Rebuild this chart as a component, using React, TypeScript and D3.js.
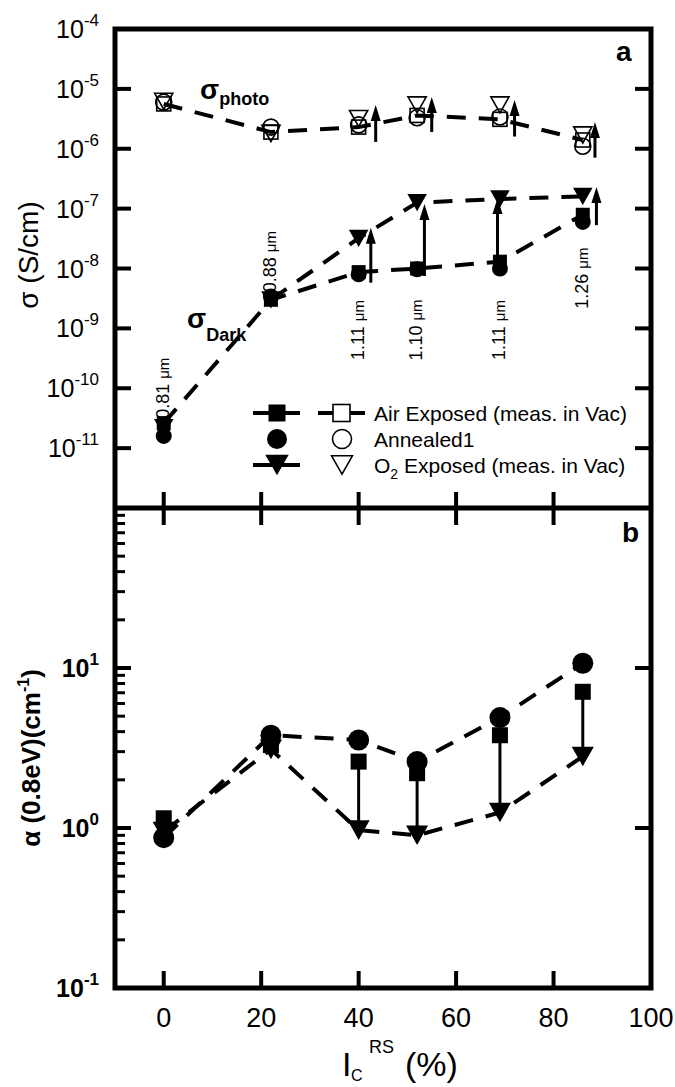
import React from 'react';
import * as d3 from 'd3';

// composition (%) of each sample
const xVals = [0, 22, 40, 52, 69, 86];

// photoconductivity (S/cm), open symbols
const photoAir = [5.6e-6, 1.9e-6, 2.3e-6, 3.6e-6, 3.1e-6, 1.4e-6];
const photoAnneal = [6.0e-6, 2.3e-6, 2.5e-6, 3.3e-6, 3.4e-6, 1.1e-6];
const photoO2 = [6.2e-6, 1.8e-6, 3.2e-6, 5.4e-6, 5.4e-6, 1.7e-6];

// dark conductivity (S/cm), filled symbols
const darkAir = [2.6e-11, 3.0e-9, 8.7e-9, 1.0e-8, 1.3e-8, 7.9e-8];
const darkAnneal = [1.6e-11, 3.4e-9, 8.0e-9, 9.7e-9, 1.0e-8, 6.0e-8];
const darkO2 = [2.2e-11, 3.0e-9, 3.2e-8, 1.26e-7, 1.45e-7, 1.6e-7];

// arrows: [x, from, to]
const photoArrows = [
  [43.5, 1.3e-6, 5.4e-6],
  [55, 1.9e-6, 7.3e-6],
  [72, 1.6e-6, 6.5e-6],
  [88.5, 7.1e-7, 2.8e-6],
];
const darkArrows = [
  [42.5, 5.8e-9, 4.8e-8],
  [53.5, 7.5e-9, 1.2e-7],
  [68.5, 1.3e-8, 1.5e-7],
  [88.8, 5.3e-8, 2.3e-7],
];

// film thickness labels
const thickText = ['0.81', '0.88', '1.11', '1.10', '1.11', '1.26'];
const thickAt = [1.0e-10, 1.3e-8, 9.4e-10, 9.4e-10, 9.4e-10, 6.9e-9];

// absorption at 0.8 eV (cm-1)
const alphaAir = [1.15, 3.3, 2.6, 2.2, 3.8, 7.1];
const alphaAnneal = [0.87, 3.8, 3.55, 2.6, 4.9, 10.7];
const alphaO2 = [0.95, 3.1, 0.97, 0.9, 1.25, 2.8];

const xTicks = [0, 20, 40, 60, 80, 100];
const sigmaExp = [-4, -5, -6, -7, -8, -9, -10, -11];
const alphaExp = [1, 0, -1];

const legendLabels = ['Air Exposed (meas. in Vac)', 'Annealed1', 'Exposed (meas. in Vac)'];

const FONT = '"Liberation Sans", Arial, sans-serif';

const L = 115, R = 651, T1 = 29, B1 = 508, B2 = 988;

type Shape = 'square' | 'circle' | 'tri';

function Marker({ shape, cx, cy, s, filled }: { shape: Shape; cx: number; cy: number; s: number; filled: boolean }) {
  const fill = filled ? '#000' : 'none';
  const sw = filled ? 0 : 1.6;
  if (shape === 'square')
    return <rect x={cx - s / 2} y={cy - s / 2} width={s} height={s} fill={fill} stroke="#000" strokeWidth={sw} />;
  if (shape === 'circle')
    return <circle cx={cx} cy={cy} r={s / 2 + 1} fill={fill} stroke="#000" strokeWidth={sw} />;
  const w = s * 1.3, h = s * 1.15;
  return (
    <polygon
      points={`${cx - w / 2},${cy - h / 2} ${cx + w / 2},${cy - h / 2} ${cx},${cy + h / 2}`}
      fill={fill} stroke="#000" strokeWidth={sw} strokeLinejoin="miter"
    />
  );
}

export default function App() {
  const x = d3.scaleLinear().domain([-10, 100]).range([L, R]);
  const yS = d3.scaleLog().domain([1e-12, 1e-4]).range([B1, T1]);
  const yA = d3.scaleLog().domain([0.1, 100]).range([B2, B1]);

  const lineS = (vals: number[], from = 0) =>
    d3.line<number>().x((_, i) => x(xVals[i + from])).y(v => yS(v))(vals.slice(from)) || '';
  const lineA = (vals: number[]) =>
    d3.line<number>().x((_, i) => x(xVals[i])).y(v => yA(v))(vals) || '';

  const dash = { fill: 'none', stroke: '#000', strokeWidth: 4, strokeDasharray: '19 13' };

  const minor: number[] = [];
  [0.1, 1, 10].forEach(d => { for (let k = 2; k <= 9; k++) minor.push(d * k); });

  const legendY = [413, 439, 465];

  return (
    <svg width={675} height={1087} style={{ position: 'absolute', left: 0, top: 0, background: '#fff' }} fontFamily={FONT}>
      {/* ---------- top panel ---------- */}
      <path d={lineS(photoAir)} {...dash} />
      <path d={lineS(darkAir)} {...dash} />
      <path d={lineS(darkO2, 1)} {...dash} />

      {photoArrows.concat(darkArrows).map((a, i) => {
        const px = x(a[0]), ty = yS(a[2]);
        return (
          <g key={'ar' + i}>
            <line x1={px} x2={px} y1={yS(a[1])} y2={ty + 12} stroke="#000" strokeWidth={3} />
            <polygon points={`${px - 5},${ty + 16} ${px + 5},${ty + 16} ${px},${ty}`} fill="#000" />
          </g>
        );
      })}

      {xVals.map((xv, i) => (
        <g key={'pm' + i}>
          <Marker shape="square" cx={x(xv)} cy={yS(photoAir[i])} s={14} filled={false} />
          <Marker shape="circle" cx={x(xv)} cy={yS(photoAnneal[i])} s={14} filled={false} />
          <Marker shape="tri" cx={x(xv)} cy={yS(photoO2[i])} s={14} filled={false} />
          <Marker shape="square" cx={x(xv)} cy={yS(darkAir[i])} s={14} filled />
          <Marker shape="circle" cx={x(xv)} cy={yS(darkAnneal[i])} s={14} filled />
          <Marker shape="tri" cx={x(xv)} cy={yS(darkO2[i])} s={15} filled />
        </g>
      ))}

      {thickText.map((t, i) => {
        const px = x(xVals[i]) - 1, py = yS(thickAt[i]);
        return (
          <text key={'th' + i} transform={`translate(${px + 6},${py}) rotate(-90)`} fontSize={18} textAnchor="middle">
            {t} <tspan fontSize={15}>μm</tspan>
          </text>
        );
      })}

      <text x={200} y={99} fontSize={28} fontWeight="bold">σ<tspan fontSize={18} dy={6}>photo</tspan></text>
      <text x={187} y={328} fontSize={28} fontWeight="bold">σ<tspan fontSize={18} dy={13}>Dark</tspan></text>
      <text x={616} y={61} fontSize={28} fontWeight="bold">a</text>

      {/* legend */}
      <line x1={253} x2={300} y1={legendY[0]} y2={legendY[0]} stroke="#000" strokeWidth={4} />
      <line x1={318} x2={365} y1={legendY[0]} y2={legendY[0]} stroke="#000" strokeWidth={4} />
      <line x1={253} x2={300} y1={legendY[2]} y2={legendY[2]} stroke="#000" strokeWidth={4} />
      <Marker shape="square" cx={277} cy={legendY[0]} s={17} filled />
      <rect x={333} y={legendY[0] - 8.5} width={17} height={17} fill="#fff" stroke="#000" strokeWidth={1.6} />
      <Marker shape="circle" cx={277} cy={legendY[1]} s={18} filled />
      <Marker shape="circle" cx={342} cy={legendY[1]} s={17} filled={false} />
      <Marker shape="tri" cx={277} cy={legendY[2]} s={18} filled />
      <Marker shape="tri" cx={342} cy={legendY[2]} s={16} filled={false} />
      <text x={374} y={legendY[0] + 7.5} fontSize={21}>{legendLabels[0]}</text>
      <text x={374} y={legendY[1] + 7.5} fontSize={21}>{legendLabels[1]}</text>
      <text x={374} y={legendY[2] + 7.5} fontSize={21}>O<tspan fontSize={14} dy={6}>2</tspan><tspan dy={-6}> {legendLabels[2]}</tspan></text>

      {/* ---------- bottom panel ---------- */}
      <path d={lineA(alphaAnneal)} {...dash} />
      <path d={lineA(alphaO2)} {...dash} />
      {xVals.map((xv, i) => i >= 2 ? (
        <line key={'ba' + i} x1={x(xv)} x2={x(xv)} y1={yA(alphaAir[i])} y2={yA(alphaO2[i])} stroke="#000" strokeWidth={3} />
      ) : null)}
      {xVals.map((xv, i) => (
        <g key={'bm' + i}>
          <Marker shape="circle" cx={x(xv)} cy={yA(alphaAnneal[i])} s={19} filled />
          <Marker shape="square" cx={x(xv)} cy={yA(alphaAir[i])} s={16} filled />
          <Marker shape="tri" cx={x(xv)} cy={yA(alphaO2[i])} s={17} filled />
        </g>
      ))}
      <text x={622} y={542} fontSize={28} fontWeight="bold">b</text>

      {/* ---------- axes ---------- */}
      <rect x={L} y={T1} width={R - L} height={B2 - T1} fill="none" stroke="#000" strokeWidth={5} />
      <line x1={L} x2={R} y1={B1} y2={B1} stroke="#000" strokeWidth={5} />

      {sigmaExp.map(e => (
        <g key={'se' + e}>
          <line x1={L} x2={L + 16} y1={yS(Math.pow(10, e))} y2={yS(Math.pow(10, e))} stroke="#000" strokeWidth={4} />
          <line x1={R - 16} x2={R} y1={yS(Math.pow(10, e))} y2={yS(Math.pow(10, e))} stroke="#000" strokeWidth={4} />
          <text x={99} y={yS(Math.pow(10, e)) + 9} fontSize={25} textAnchor="end">
            10<tspan fontSize={17} dy={-12}>{e}</tspan>
          </text>
        </g>
      ))}

      {minor.map(v => (
        <line key={'mn' + v} x1={L} x2={L + 10} y1={yA(v)} y2={yA(v)} stroke="#000" strokeWidth={3} />
      ))}
      {alphaExp.map(e => (
        <g key={'ae' + e}>
          <line x1={L} x2={L + 16} y1={yA(Math.pow(10, e))} y2={yA(Math.pow(10, e))} stroke="#000" strokeWidth={4} />
          <line x1={R - 16} x2={R} y1={yA(Math.pow(10, e))} y2={yA(Math.pow(10, e))} stroke="#000" strokeWidth={4} />
          <text x={99} y={yA(Math.pow(10, e)) + 9} fontSize={25} fontWeight="bold" textAnchor="end">
            10<tspan fontSize={17} dy={-12}>{e}</tspan>
          </text>
        </g>
      ))}

      {xTicks.map(t => (
        <g key={'xt' + t}>
          <line x1={x(t)} x2={x(t)} y1={B1 - 16} y2={B1 + 17} stroke="#000" strokeWidth={4} />
          <line x1={x(t)} x2={x(t)} y1={B2 - 17} y2={B2} stroke="#000" strokeWidth={4} />
          <text x={x(t)} y={1027} fontSize={27} textAnchor="middle">{t}</text>
        </g>
      ))}

      <text transform={`translate(38,255) rotate(-90)`} fontSize={28} textAnchor="middle">σ (S/cm)</text>
      <text transform={`translate(40,758) rotate(-90)`} fontSize={26} fontWeight="bold" textAnchor="middle">
        α (0.8eV)(cm<tspan fontSize={16} dy={-11}>-1</tspan><tspan dy={11}>)</tspan>
      </text>

      <text x={342} y={1076} fontSize={34}>I</text>
      <text x={351} y={1081} fontSize={16}>C</text>
      <text x={369} y={1053} fontSize={18}>RS</text>
      <text x={405} y={1076} fontSize={34}>(%)</text>
    </svg>
  );
}
